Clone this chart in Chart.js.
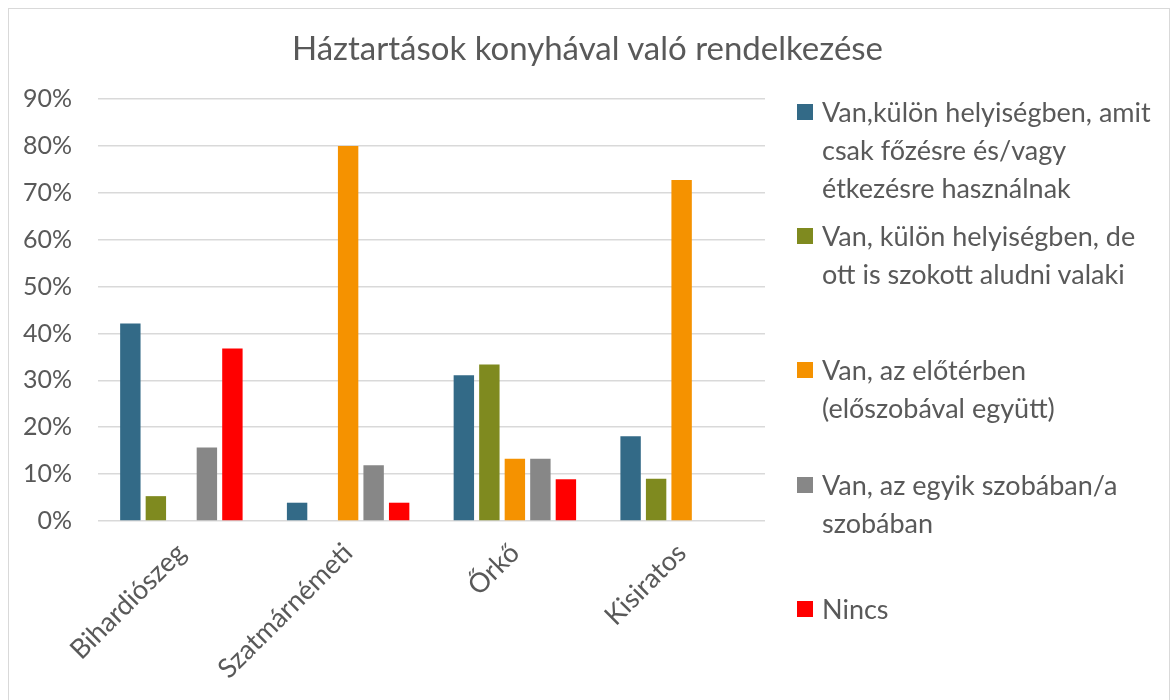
<!DOCTYPE html>
<html lang="hu">
<head>
<meta charset="utf-8">
<title>Háztartások konyhával való rendelkezése</title>
<script src="https://cdn.jsdelivr.net/npm/chart.js@4.4.1/dist/chart.umd.min.js"></script>
<style>
    html, body { margin: 0; padding: 0; background: #fff; }
    #wrap { position: relative; width: 1175px; height: 700px; overflow: hidden; font-family: Lato, sans-serif; color: #595959; }
    #frame { position: absolute; left: 8px; top: 8px; width: 1162px; height: 720px; border: 1px solid #d9d9d9; box-sizing: border-box; }
    #title { position: absolute; left: 0; width: 1175px; top: 26px; text-align: center; font-size: 33px; line-height: 42px; }
    #chart { position: absolute; left: 0; top: 0; }
    .item { position: absolute; left: 797px; font-size: 27px; line-height: 38px; }
    .item .box { position: absolute; left: 0; top: 11px; width: 16px; height: 16px; }
    .item .txt { position: absolute; left: 25px; top: 0; white-space: nowrap; }
</style>
</head>
<body>
<div id="wrap">
    <div id="frame"></div>
    <canvas id="chart" width="1175" height="700"></canvas>
    <div id="title">Háztartások konyhával való rendelkezése</div>
    <div id="legend"></div>
</div>
<script>
// Adatok (százalék)
const telepulesek = ['Bihardiószeg', 'Szatmárnémeti', 'Őrkő', 'Kisiratos'];
const kulonHelyiseg = [42.1, 3.9, 31.1, 18.1];
const kulonDeAludnak = [5.3, 0, 33.4, 9.0];
const eloterben = [0, 80.0, 13.3, 72.7];
const szobaban = [15.7, 11.9, 13.3, 0];
const nincs = [36.8, 3.9, 8.9, 0];
const yTicks = [0, 10, 20, 30, 40, 50, 60, 70, 80, 90];

const sorozatok = [
    { nev: ['Van,külön helyiségben, amit', 'csak főzésre és/vagy', 'étkezésre használnak'], adat: kulonHelyiseg, szin: '#336a87', y: 112 },
    { nev: ['Van, külön helyiségben, de', 'ott is szokott aludni valaki'], adat: kulonDeAludnak, szin: '#7f8a1f', y: 236 },
    { nev: ['Van, az előtérben', '(előszobával együtt)'], adat: eloterben, szin: '#f59200', y: 370 },
    { nev: ['Van, az egyik szobában/a', 'szobában'], adat: szobaban, szin: '#878787', y: 485 },
    { nev: ['Nincs'], adat: nincs, szin: '#ff0000', y: 609 }
];

// Jelmagyarázat
const legendEl = document.getElementById('legend');
sorozatok.forEach(function(s) {
    const item = document.createElement('div');
    item.className = 'item';
    item.style.top = (s.y - 19) + 'px';
    item.innerHTML = '<div class="box" style="background:' + s.szin + '"></div><div class="txt">' + s.nev.join('<br>') + '</div>';
    legendEl.appendChild(item);
});

document.addEventListener('DOMContentLoaded', function() {
    const ctx = document.getElementById('chart');
    new Chart(ctx, {
        type: 'bar',
        data: {
            labels: telepulesek,
            datasets: sorozatok.map(function(s) {
                return {
                    label: s.nev.join(' '),
                    data: s.adat,
                    backgroundColor: s.szin,
                    borderWidth: 0,
                    categoryPercentage: 0.765,
                    barPercentage: 0.8
                };
            })
        },
        options: {
            responsive: false,
            animation: false,
            layout: {
                padding: { top: 99, right: 410, bottom: 0, left: 0 }
            },
            plugins: {
                legend: { display: false },
                title: { display: false },
                tooltip: { enabled: false }
            },
            scales: {
                y: {
                    min: 0,
                    max: 90,
                    afterFit: function(scale) { scale.width = 98; },
                    afterBuildTicks: function(scale) {
                        scale.ticks = yTicks.map(function(v) { return { value: v }; });
                    },
                    ticks: {
                        padding: 26,
                        color: '#595959',
                        font: { family: 'Lato', size: 25 },
                        callback: function(v) { return v + '%'; }
                    },
                    grid: {
                        color: '#d9d9d9',
                        lineWidth: 1.5,
                        drawTicks: false
                    },
                    border: { display: false }
                },
                x: {
                    afterFit: function(scale) { scale.height = 179; },
                    ticks: {
                        minRotation: 45,
                        maxRotation: 45,
                        padding: 8,
                        color: '#595959',
                        font: { family: 'Lato', size: 27 }
                    },
                    grid: { display: false },
                    border: { display: false }
                }
            }
        }
    });
});
</script>
</body>
</html>
